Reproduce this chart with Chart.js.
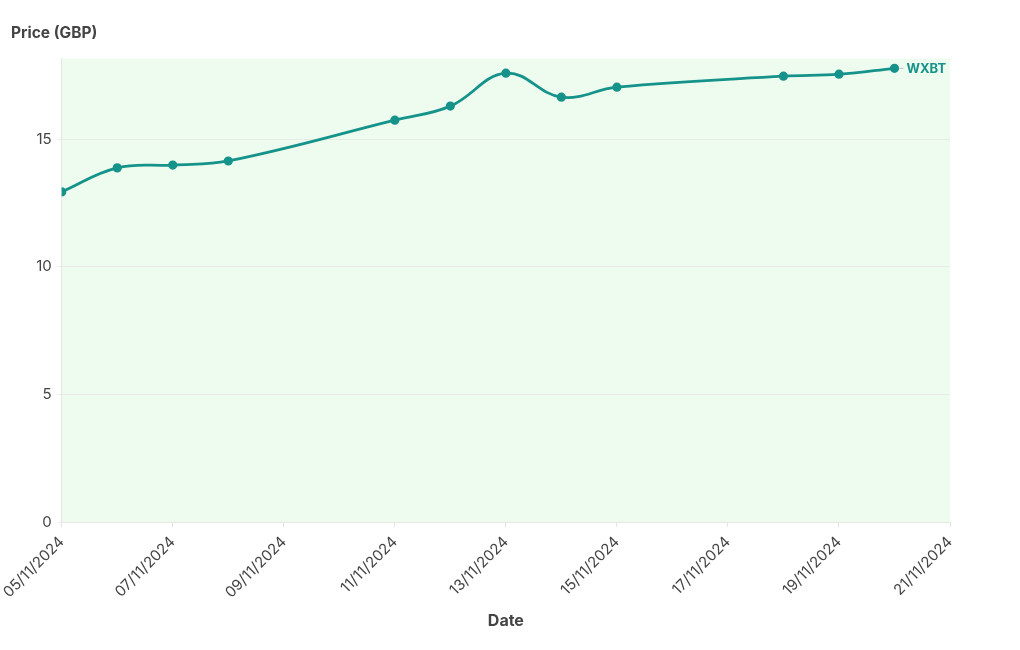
<!DOCTYPE html>
<html>
<head>
<meta charset="utf-8">
<script src="https://cdn.jsdelivr.net/npm/chart.js@4.4.1/dist/chart.umd.min.js"></script>
<style>
  html, body { margin: 0; padding: 0; background: #fff; }
  #wrap { width: 1020px; height: 650px; }
</style>
</head>
<body>
<div id="wrap"><canvas id="chart"></canvas></div>
<script>
// day of November 2024
var days = [5, 6, 7, 8, 11, 12, 13, 14, 15, 18, 19, 20];
var prices = [12.93, 13.87, 13.98, 14.14, 15.74, 16.29, 17.58, 16.64, 17.03, 17.46, 17.54, 17.77];
var seriesName = 'WXBT';
var xTicks = [5, 7, 9, 11, 13, 15, 17, 19, 21];
var yTicks = [0, 5, 10, 15];

var teal = '#15938a';
var font = 'Inter, "Noto Sans", sans-serif';

function pad(n) { return (n < 10 ? '0' : '') + n; }

var points = days.map(function (d, i) { return { x: d, y: prices[i] }; });

var plotBg = {
  id: 'plotBg',
  beforeDraw: function (chart) {
    var a = chart.chartArea, ctx = chart.ctx;
    ctx.save();
    ctx.fillStyle = '#eefcef';
    ctx.fillRect(a.left, a.top, a.right - a.left, a.bottom - a.top);
    ctx.restore();
  }
};

var endLabel = {
  id: 'endLabel',
  afterDatasetsDraw: function (chart) {
    var meta = chart.getDatasetMeta(0);
    var p = meta.data[meta.data.length - 1];
    var ctx = chart.ctx;
    ctx.save();
    ctx.strokeStyle = '#bbbbbb';
    ctx.lineWidth = 1;
    ctx.beginPath();
    ctx.moveTo(p.x + 5, p.y);
    ctx.lineTo(p.x + 9, p.y);
    ctx.stroke();
    ctx.fillStyle = teal;
    ctx.font = 'bold 13px ' + font;
    ctx.textBaseline = 'middle';
    ctx.fillText(seriesName, p.x + 12, p.y + 1);
    ctx.restore();
  }
};

new Chart(document.getElementById('chart'), {
  type: 'line',
  data: {
    datasets: [{
      label: seriesName,
      data: points,
      borderColor: teal,
      backgroundColor: teal,
      borderWidth: 2.8,
      pointRadius: 3.2,
      pointHoverRadius: 4,
      tension: 0.4,
      cubicInterpolationMode: 'default'
    }]
  },
  options: {
    responsive: true,
    maintainAspectRatio: false,
    animation: false,
    layout: { padding: { left: 11, right: 70, top: 0, bottom: 17 } },
    plugins: {
      legend: { display: false },
      tooltip: { enabled: false },
      title: {
        display: true,
        text: 'Price (GBP)',
        align: 'start',
        color: '#444',
        font: { family: font, size: 15.5, weight: 'bold' },
        padding: { top: 24, bottom: 16 }
      }
    },
    scales: {
      x: {
        type: 'linear',
        min: 5,
        max: 21,
        afterBuildTicks: function (axis) {
          axis.ticks = xTicks.map(function (v) { return { value: v }; });
        },
        afterFit: function (axis) { axis.height = 111; },
        ticks: {
          autoSkip: false,
          maxRotation: 45,
          minRotation: 45,
          padding: 6,
          color: '#444',
          font: { family: font, size: 15 },
          callback: function (v) { return pad(v) + '/11/2024'; }
        },
        grid: {
          display: true,
          drawOnChartArea: false,
          drawTicks: true,
          tickLength: 5,
          color: '#e4e4e4'
        },
        border: { color: '#e6e6e6' },
        title: {
          display: true,
          text: 'Date',
          color: '#444',
          font: { family: font, size: 16, weight: 'bold' },
          padding: { top: 6, bottom: 2 }
        }
      },
      y: {
        min: 0,
        max: 18.15,
        afterBuildTicks: function (axis) {
          axis.ticks = yTicks.map(function (v) { return { value: v }; });
        },
        afterFit: function (axis) { axis.width = 49; },
        ticks: {
          color: '#444',
          font: { family: font, size: 15 },
          padding: 6
        },
        grid: {
          color: '#e8ece8',
          drawTicks: true,
          tickLength: 4
        },
        border: { color: '#e6e6e6' }
      }
    }
  },
  plugins: [plotBg, endLabel]
});
</script>
</body>
</html>
